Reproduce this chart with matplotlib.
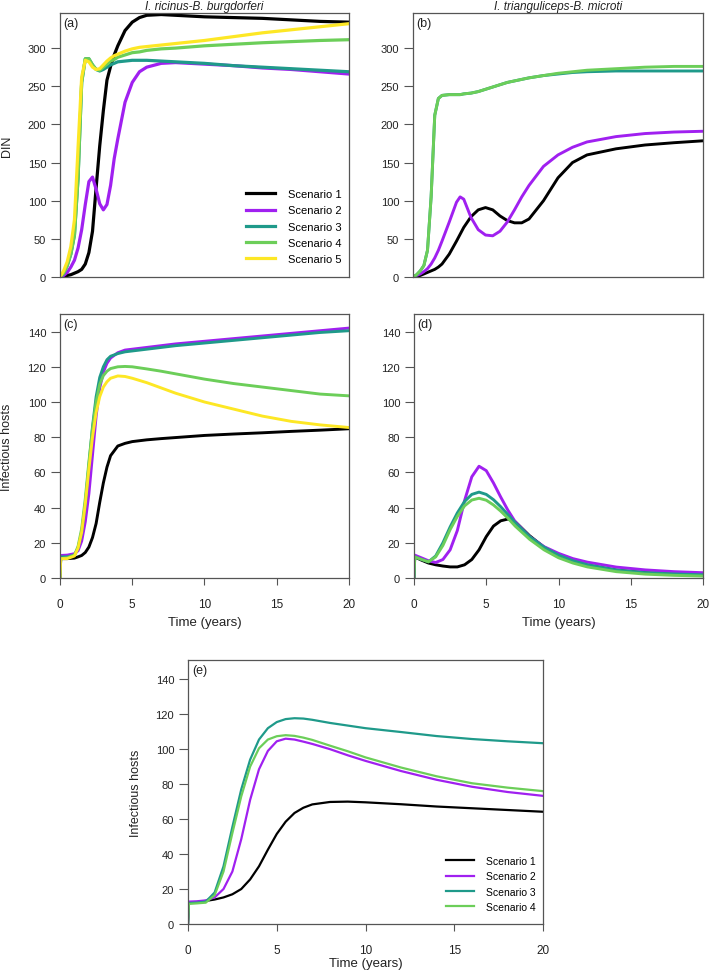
import matplotlib
matplotlib.use("Agg")
import matplotlib.pyplot as plt

plt.rcParams["font.family"] = ["Liberation Sans", "DejaVu Sans"]

# scenario colours
colors = ["black", "#A020F0", "#1F9A8A", "#6CCE59", "#FDE725"]
scen_labels = ["Scenario 1", "Scenario 2", "Scenario 3", "Scenario 4", "Scenario 5"]

# (a) I. ricinus - B. burgdorferi, DIN
t_a = [0, 0.25, 0.5, 0.75, 1, 1.25, 1.5, 1.75, 2, 2.25, 2.5, 2.75, 3, 3.25, 3.5,
       3.75, 4, 4.5, 5, 5.5, 6, 7, 8, 10, 12, 14, 16, 18, 20]
din_a_s1 = [0, 1, 2, 3, 5, 7, 10, 17, 32, 60, 117, 172, 218, 258, 276,
            291, 303, 323, 334, 340, 343, 344, 343, 341, 340, 339, 337, 335, 334]
din_a_s2 = [0, 2, 6, 13, 22, 38, 62, 95, 125, 131, 115, 96, 88, 95, 120,
            155, 181, 229, 255, 269, 275, 280, 281, 279, 277, 274, 272, 269, 266]
din_a_s3 = [0, 5, 15, 30, 55, 130, 255, 286, 286, 278, 272, 270, 272, 275, 278,
            280, 282, 283, 284, 284, 284, 283, 282, 280, 277, 275, 273, 271, 269]
din_a_s4 = [0, 5, 15, 30, 55, 130, 255, 286, 286, 278, 272, 271, 275, 279, 283,
            285, 288, 291, 294, 295, 297, 299, 300, 303, 305, 307, 308.5, 310, 311]
din_a_s5 = [0, 8, 20, 40, 75, 170, 262, 284, 282, 275, 272, 273, 278, 283, 287,
            290, 292, 296, 299, 301, 302, 304, 306, 310, 315, 320, 324, 328, 332]

# (b) I. trianguliceps - B. microti, DIN
t_b = [0, 0.25, 0.5, 0.75, 1, 1.25, 1.5, 1.75, 2, 2.5, 3, 3.25, 3.5, 4, 4.5,
       5, 5.5, 6, 6.5, 7, 7.5, 8, 9, 10, 11, 12, 14, 16, 18, 20]
din_b_s1 = [0, 1, 2, 4, 6, 8, 10, 13, 17, 30, 47, 56, 65, 79, 88,
            91, 88, 80, 74, 71, 71, 76, 100, 130, 150, 160, 168, 173, 176, 178.5]
din_b_s2 = [0, 2, 4, 7, 11, 17, 25, 35, 47, 72, 98, 105, 102, 78, 62,
            55, 54, 60, 72, 88, 105, 120, 145, 160, 170, 177, 184, 188, 190, 191]
din_b_s3 = [0, 3, 8, 15, 35, 105, 212, 234, 238, 239, 239, 239, 240, 241, 243,
            246, 249, 252, 255, 257, 259, 261, 264, 266, 268, 269, 270, 270, 270, 270]
din_b_s4 = [0, 3, 8, 15, 35, 105, 212, 234, 238, 239, 239, 239, 240, 241, 243,
            246, 249, 252, 255, 257, 259, 261, 264, 267, 269, 271, 273, 275, 276, 276]

# (c) I. ricinus - B. burgdorferi, infectious hosts
t_c = [0, 0.05, 0.5, 1, 1.25, 1.5, 1.75, 2, 2.25, 2.5, 2.75, 3, 3.25, 3.5, 4,
       4.5, 5, 6, 7, 8, 10, 12, 14, 16, 18, 20]
inf_c_s1 = [0, 11, 11, 11.3, 12, 12.8, 14.5, 17.6, 23, 31, 43, 54, 63, 69.5, 75,
            76.5, 77.5, 78.5, 79.2, 79.8, 81, 81.8, 82.5, 83.3, 84, 84.8]
inf_c_s2 = [0, 12.8, 13, 13.8, 15.5, 21, 32, 48, 70, 92, 108, 117, 122, 125, 128,
            129.5, 130, 131, 132, 133, 134.5, 136, 137.5, 139, 140.5, 142]
inf_c_s3 = [0, 12, 12, 13, 17, 26, 42, 64, 86, 103, 114, 120, 124, 126, 127.5,
            128.5, 129, 130, 131, 132, 133.5, 135, 136.5, 138, 139.5, 140.5]
inf_c_s4 = [0, 11, 11.5, 13, 18, 28, 45, 66, 85, 100, 110, 115, 117.5, 119, 120,
            120.2, 120, 118.8, 117.5, 116, 113, 110.5, 108.5, 106.5, 104.5, 103.5]
inf_c_s5 = [0, 11, 11, 12.5, 17, 26, 42, 62, 80, 94, 103, 108.5, 111.5, 113.5, 114.8,
            114.5, 113.5, 111, 108, 105, 100, 96, 92, 89, 87, 85.5]

# (d) I. trianguliceps - B. microti, infectious hosts
t_d = [0, 0.05, 0.5, 1, 1.5, 2, 2.5, 3, 3.5, 4, 4.5, 5, 5.5, 6, 6.5,
       7, 8, 9, 10, 11, 12, 14, 16, 18, 20]
inf_d_s1 = [0, 12, 10.2, 8.5, 7.5, 6.8, 6.3, 6.3, 7.5, 10.5, 16, 23.5, 29.5, 32.5, 33.5,
            32, 24, 17.5, 12.5, 9.5, 7.3, 4.5, 3, 2.2, 1.7]
inf_d_s2 = [0, 13, 11.5, 9.8, 8.8, 10.5, 16, 27, 44, 57.5, 63.5, 61, 54, 46, 38.5,
            32, 23.5, 17.8, 14, 11, 9, 6.2, 4.6, 3.6, 3]
inf_d_s3 = [0, 12, 10.6, 9.2, 12.5, 20, 29, 37, 43.5, 47.5, 48.8, 47.5, 44.5, 40.5, 36,
            31.5, 23.5, 17.5, 13, 9.8, 7.5, 4.5, 3, 2.3, 1.8]
inf_d_s4 = [0, 12, 10.6, 9.2, 12, 18.5, 27.5, 35, 41, 44.3, 45.3, 44.2, 41.5, 38, 34,
            29.5, 22, 16, 11.5, 8.5, 6.3, 3.6, 2.2, 1.5, 1.1]

# (e) infectious hosts, scenarios 1-4
t_e = [0, 0.05, 0.5, 1, 1.5, 2, 2.5, 3, 3.5, 4, 4.5, 5, 5.5, 6, 6.5,
       7, 8, 9, 10, 12, 14, 16, 18, 20]
inf_e_s1 = [0, 12, 12.5, 13.2, 14, 15.2, 17, 20, 25.5, 33, 42.5, 51.5, 58.5, 63.5, 66.5,
            68.4, 69.8, 70, 69.6, 68.5, 67.2, 66.2, 65.2, 64.2]
inf_e_s2 = [0, 12.8, 13, 13.5, 15.2, 20, 30, 48.5, 71, 88.5, 99, 104.5, 106, 105.5, 104.3,
            103, 100, 96.5, 93.3, 87.5, 82.5, 78.5, 75.5, 73.3]
inf_e_s3 = [0, 12, 12.2, 12.8, 18, 33, 55.5, 77, 94, 105.5, 112, 115.5, 117.2, 117.7, 117.5,
            116.8, 115, 113.5, 112, 109.8, 107.5, 105.8, 104.5, 103.4]
inf_e_s4 = [0, 11.5, 11.8, 12.2, 16.5, 30, 52, 73, 90, 100.5, 105.5, 107.4, 108, 107.6, 106.6,
            105.3, 102, 98.8, 95.3, 89.5, 84.5, 80.5, 78, 76]

W, H = 709, 978
fig = plt.figure(figsize=(W / 100, H / 100), dpi=100)
txt = "#222222"


def make_axes(x0, y0, x1, y1):
    # pixel box -> figure fraction
    return fig.add_axes([x0 / W, 1 - y1 / H, (x1 - x0) / W, (y1 - y0) / H])


def style(ax, ymax, yticks, xticks, tag):
    ax.set_xlim(0, 20)
    ax.set_ylim(0, ymax)
    ax.set_yticks(yticks)
    for s in ax.spines.values():
        s.set_color("#555555")
        s.set_linewidth(0.9)
    ax.tick_params(axis="y", length=6.5, width=0.8, color="#555555", pad=3.5,
                   labelsize=8, labelcolor=txt)
    if xticks:
        ax.set_xticks([0, 5, 10, 15, 20])
        ax.tick_params(axis="x", length=5, width=0.8, color="#555555", pad=9.5,
                       labelsize=8.5, labelcolor=txt)
    else:
        ax.set_xticks([])
    ax.text(0.012, 0.985, tag, transform=ax.transAxes, ha="left", va="top",
            fontsize=9, color=txt)


ax_a = make_axes(60, 14, 349, 278)
ax_b = make_axes(413, 14, 703, 278)
ax_c = make_axes(60, 315, 349, 579)
ax_d = make_axes(414, 315, 703, 579)
ax_e = make_axes(188, 661, 543, 925)

for ys, c, lab in zip([din_a_s1, din_a_s2, din_a_s3, din_a_s4, din_a_s5], colors, scen_labels):
    ax_a.plot(t_a, ys, color=c, lw=2.3, label=lab)
for ys, c in zip([din_b_s1, din_b_s2, din_b_s3, din_b_s4], colors):
    ax_b.plot(t_b, ys, color=c, lw=2.1)
for ys, c in zip([inf_c_s1, inf_c_s2, inf_c_s3, inf_c_s4, inf_c_s5], colors):
    ax_c.plot(t_c, ys, color=c, lw=2.1)
for ys, c in zip([inf_d_s1, inf_d_s2, inf_d_s3, inf_d_s4], colors):
    ax_d.plot(t_d, ys, color=c, lw=2.1)
for ys, c, lab in zip([inf_e_s1, inf_e_s2, inf_e_s3, inf_e_s4], colors, scen_labels):
    ax_e.plot(t_e, ys, color=c, lw=1.6, label=lab)

style(ax_a, 346, [0, 50, 100, 150, 200, 250, 300], False, "(a)")
style(ax_b, 346, [0, 50, 100, 150, 200, 250, 300], False, "(b)")
style(ax_c, 150, range(0, 141, 20), True, "(c)")
style(ax_d, 150, range(0, 141, 20), True, "(d)")
style(ax_e, 151, range(0, 141, 20), True, "(e)")

ax_a.set_title("I. ricinus-B. burgdorferi", fontsize=8.5, style="italic", pad=3, color=txt)
ax_b.set_title("I. trianguliceps-B. microti", fontsize=8.5, style="italic", pad=3, color=txt)

# y labels placed in figure pixels
fig.text(7 / W, 1 - 146 / H, "DIN", rotation=90, ha="center", va="center",
         fontsize=9, color=txt)
fig.text(7 / W, 1 - 447 / H, "Infectious hosts", rotation=90, ha="center", va="center",
         fontsize=9, color=txt)
fig.text(136 / W, 1 - 793 / H, "Infectious hosts", rotation=90, ha="center", va="center",
         fontsize=9, color=txt)

for ax, yl in ((ax_c, -0.145), (ax_d, -0.145), (ax_e, -0.125)):
    ax.set_xlabel("Time (years)", fontsize=9.5, color=txt)
    ax.xaxis.set_label_coords(0.5, yl)

ax_a.legend(loc="lower right", bbox_to_anchor=(0.976, 0.05), frameon=False,
            fontsize=8, handlelength=2.6, handletextpad=1.2, labelspacing=0.55,
            borderpad=0, borderaxespad=0)
ax_e.legend(loc="lower right", bbox_to_anchor=(0.98, 0.045), frameon=False,
            fontsize=7.5, handlelength=2.7, handletextpad=1.15, labelspacing=0.52,
            borderpad=0, borderaxespad=0)

plt.savefig("out.png", dpi=100)
plt.close()
